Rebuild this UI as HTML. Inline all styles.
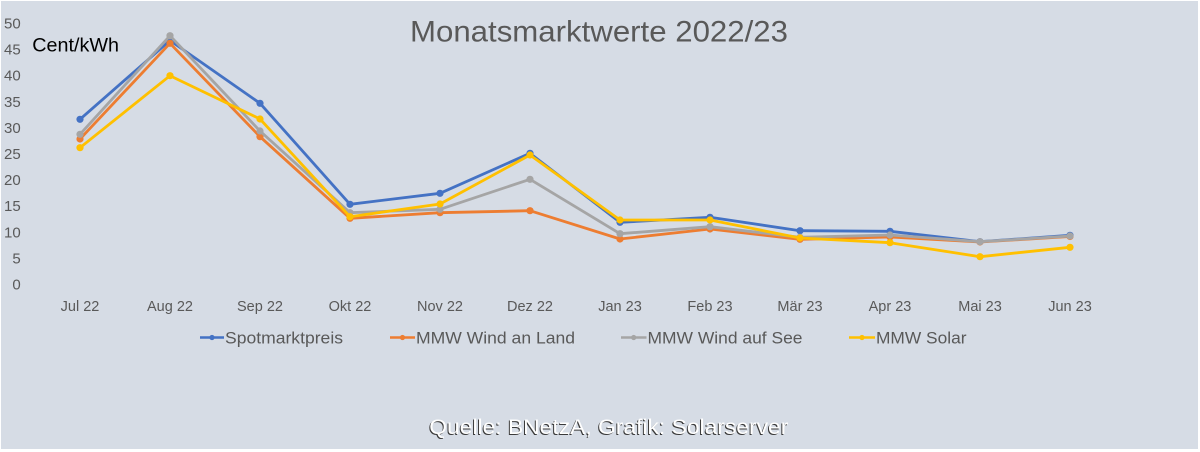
<!DOCTYPE html>
<html>
<head>
<meta charset="utf-8">
<style>
  html, body { margin: 0; padding: 0; background: #ffffff; }
  body { width: 1200px; height: 452px; overflow: hidden; }
  svg { display: block; }
  text { font-family: "Liberation Sans", "DejaVu Sans", sans-serif; }
</style>
</head>
<body>
<svg width="1200" height="452" viewBox="0 0 1200 452" xmlns="http://www.w3.org/2000/svg">
  <rect x="0" y="0" width="1200" height="452" fill="#ffffff"/>
  <rect x="1" y="1" width="1197" height="448" fill="#d6dce5"/>

  <!-- Title -->
  <text x="410" y="41.7" font-size="30" fill="#595959" textLength="378" lengthAdjust="spacingAndGlyphs">Monatsmarktwerte 2022/23</text>

  <!-- Unit label -->
  <text x="32.3" y="51.7" font-size="19.5" fill="#000000" textLength="86.7" lengthAdjust="spacingAndGlyphs">Cent/kWh</text>

  <!-- Y axis labels -->
  <g font-size="15" fill="#595959" text-anchor="end">
    <text x="20.7" y="28.5">50</text>
    <text x="20.7" y="54.6">45</text>
    <text x="20.7" y="80.7">40</text>
    <text x="20.7" y="106.8">35</text>
    <text x="20.7" y="132.9">30</text>
    <text x="20.7" y="159.0">25</text>
    <text x="20.7" y="185.1">20</text>
    <text x="20.7" y="211.2">15</text>
    <text x="20.7" y="237.3">10</text>
    <text x="20.7" y="263.4">5</text>
    <text x="20.7" y="289.5">0</text>
  </g>

  <!-- X axis labels -->
  <g font-size="14.5" fill="#595959" text-anchor="middle">
    <text x="80" y="311">Jul 22</text>
    <text x="170" y="311">Aug 22</text>
    <text x="260" y="311">Sep 22</text>
    <text x="350" y="311">Okt 22</text>
    <text x="440" y="311">Nov 22</text>
    <text x="530" y="311">Dez 22</text>
    <text x="620" y="311">Jan 23</text>
    <text x="710" y="311">Feb 23</text>
    <text x="800" y="311">Mär 23</text>
    <text x="890" y="311">Apr 23</text>
    <text x="980" y="311">Mai 23</text>
    <text x="1070" y="311">Jun 23</text>
  </g>

  <!-- Series: Spotmarktpreis (blue) -->
  <g stroke="#4472c4" fill="#4472c4">
    <polyline fill="none" stroke-width="2.8" stroke-linejoin="round" points="80,119.3 170,40.5 260,103.3 350,204.3 440,193.3 530,153.3 620,222.3 710,217.3 800,230.7 890,231.3 980,241.7 1070,235.3"/>
    <g stroke="none">
      <circle cx="80" cy="119.3" r="3.6"/><circle cx="170" cy="40.5" r="3.6"/><circle cx="260" cy="103.3" r="3.6"/><circle cx="350" cy="204.3" r="3.6"/><circle cx="440" cy="193.3" r="3.6"/><circle cx="530" cy="153.3" r="3.6"/><circle cx="620" cy="222.3" r="3.6"/><circle cx="710" cy="217.3" r="3.6"/><circle cx="800" cy="230.7" r="3.6"/><circle cx="890" cy="231.3" r="3.6"/><circle cx="980" cy="241.7" r="3.6"/><circle cx="1070" cy="235.3" r="3.6"/>
    </g>
  </g>

  <!-- Series: MMW Wind an Land (orange) -->
  <g stroke="#ed7d31" fill="#ed7d31">
    <polyline fill="none" stroke-width="2.8" stroke-linejoin="round" points="80,139 170,43.3 260,136.7 350,218.3 440,212.7 530,210.7 620,239 710,229 800,239.3 890,237 980,242 1070,236.5"/>
    <g stroke="none">
      <circle cx="80" cy="139" r="3.6"/><circle cx="170" cy="43.3" r="3.6"/><circle cx="260" cy="136.7" r="3.6"/><circle cx="350" cy="218.3" r="3.6"/><circle cx="440" cy="212.7" r="3.6"/><circle cx="530" cy="210.7" r="3.6"/><circle cx="620" cy="239" r="3.6"/><circle cx="710" cy="229" r="3.6"/><circle cx="800" cy="239.3" r="3.6"/><circle cx="890" cy="237" r="3.6"/><circle cx="980" cy="242" r="3.6"/><circle cx="1070" cy="236.5" r="3.6"/>
    </g>
  </g>

  <!-- Series: MMW Wind auf See (grey) -->
  <g stroke="#a5a5a5" fill="#a5a5a5">
    <polyline fill="none" stroke-width="2.8" stroke-linejoin="round" points="80,134.3 170,35.7 260,131 350,212.7 440,209.3 530,179.3 620,233.7 710,226.7 800,237.3 890,235 980,241.7 1070,236"/>
    <g stroke="none">
      <circle cx="80" cy="134.3" r="3.6"/><circle cx="170" cy="35.7" r="3.6"/><circle cx="260" cy="131" r="3.6"/><circle cx="350" cy="212.7" r="3.6"/><circle cx="440" cy="209.3" r="3.6"/><circle cx="530" cy="179.3" r="3.6"/><circle cx="620" cy="233.7" r="3.6"/><circle cx="710" cy="226.7" r="3.6"/><circle cx="800" cy="237.3" r="3.6"/><circle cx="890" cy="235" r="3.6"/><circle cx="980" cy="241.7" r="3.6"/><circle cx="1070" cy="236" r="3.6"/>
    </g>
  </g>

  <!-- Series: MMW Solar (yellow) -->
  <g stroke="#ffc000" fill="#ffc000">
    <polyline fill="none" stroke-width="2.8" stroke-linejoin="round" points="80,147.7 170,75.7 260,119 350,216.7 440,204 530,155 620,220 710,220 800,238 890,242.7 980,256.7 1070,247.3"/>
    <g stroke="none">
      <circle cx="80" cy="147.7" r="3.6"/><circle cx="170" cy="75.7" r="3.6"/><circle cx="260" cy="119" r="3.6"/><circle cx="350" cy="216.7" r="3.6"/><circle cx="440" cy="204" r="3.6"/><circle cx="530" cy="155" r="3.6"/><circle cx="620" cy="220" r="3.6"/><circle cx="710" cy="220" r="3.6"/><circle cx="800" cy="238" r="3.6"/><circle cx="890" cy="242.7" r="3.6"/><circle cx="980" cy="256.7" r="3.6"/><circle cx="1070" cy="247.3" r="3.6"/>
    </g>
  </g>

  <!-- Legend -->
  <g>
    <line x1="200" y1="337.5" x2="224" y2="337.5" stroke="#4472c4" stroke-width="2.4"/>
    <circle cx="212" cy="337.5" r="2.6" fill="#4472c4"/>
    <line x1="390" y1="337.5" x2="415" y2="337.5" stroke="#ed7d31" stroke-width="2.4"/>
    <circle cx="402.5" cy="337.5" r="2.6" fill="#ed7d31"/>
    <line x1="621" y1="337.5" x2="646.5" y2="337.5" stroke="#a5a5a5" stroke-width="2.4"/>
    <circle cx="633.7" cy="337.5" r="2.6" fill="#a5a5a5"/>
    <line x1="849" y1="337.5" x2="875" y2="337.5" stroke="#ffc000" stroke-width="2.4"/>
    <circle cx="862" cy="337.5" r="2.6" fill="#ffc000"/>
    <g font-size="16.5" fill="#595959">
      <text x="225" y="343.3" textLength="118" lengthAdjust="spacingAndGlyphs">Spotmarktpreis</text>
      <text x="416" y="343.3" textLength="159" lengthAdjust="spacingAndGlyphs">MMW Wind an Land</text>
      <text x="647.5" y="343.3" textLength="155" lengthAdjust="spacingAndGlyphs">MMW Wind auf See</text>
      <text x="876" y="343.3" textLength="90.5" lengthAdjust="spacingAndGlyphs">MMW Solar</text>
    </g>
  </g>

  <!-- Source -->
  <text x="428.3" y="434.8" font-size="21" fill="#3a3a3a" textLength="359" lengthAdjust="spacingAndGlyphs">Quelle: BNetzA, Grafik: Solarserver</text>
  <text x="429.3" y="434" font-size="21" fill="#ffffff" textLength="359" lengthAdjust="spacingAndGlyphs">Quelle: BNetzA, Grafik: Solarserver</text>
</svg>
</body>
</html>
